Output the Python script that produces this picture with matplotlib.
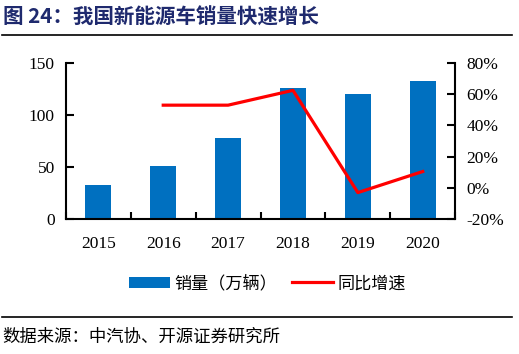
import numpy as np
import matplotlib.pyplot as plt
from matplotlib.lines import Line2D

plt.rcParams['font.family'] = ['Liberation Serif', 'Noto Sans CJK SC']

#---------------------- DATA
years  = ['2015', '2016', '2017', '2018', '2019', '2020']
sales  = [33.1, 50.7, 77.7, 125.6, 120.6, 132.5]      # 万辆
growth = [np.nan, 53.0, 53.0, 62.5, -3.0, 10.5]       # %
yticks_l = [0, 50, 100, 150]
yticks_r = [-20, 0, 20, 40, 60, 80]

#---------------------- PLOT
fig = plt.figure(figsize=(5.19, 3.54), dpi=100)
cjk = ['Noto Sans CJK SC', 'DejaVu Sans']

fig.text(0.006, 0.952, '图 24：我国新能源车销量快速增长', family=cjk, fontsize=14.8,
         fontweight='bold', color='#1F2A6E', va='center', ha='left')
fig.add_artist(Line2D([0.004, 0.986], [0.901, 0.901], color='black', lw=1.2))
fig.add_artist(Line2D([0.004, 0.986], [0.104, 0.104], color='black', lw=1.2))
fig.text(0.004, 0.050, '数据来源：中汽协、开源证券研究所', family=cjk, fontsize=12.5,
         va='center', ha='left')

ax = fig.add_axes([0.127, 0.381, 0.750, 0.441])
x = np.arange(len(years))
b = ax.bar(x, sales, width=0.4, color='#0070C0', label='销量（万辆）', zorder=2)
ax.set_xlim(-0.5, len(years) - 0.5)
ax.set_ylim(0, 150)
ax.set_yticks(yticks_l)
ax.set_xticks(x)
ax.set_xticklabels(years)
ax.set_xticks(np.arange(len(years) + 1) - 0.5, minor=True)
ax.tick_params(axis='x', which='major', length=0, pad=12, labelsize=12.5)
ax.tick_params(axis='x', which='minor', direction='in', length=5, width=1.5)
ax.tick_params(axis='y', direction='in', length=6, width=1.5, labelsize=12.5, pad=8)
for s in ['top', 'right']:
    ax.spines[s].set_visible(False)
ax.spines['left'].set_linewidth(1.5)
ax.spines['bottom'].set_linewidth(1.5)

ax2 = ax.twinx()
l, = ax2.plot(x, growth, color='#FF0000', lw=2.3, label='同比增速', zorder=3)
ax2.set_ylim(-20, 80)
ax2.set_yticks(yticks_r)
ax2.set_yticklabels(['%d%%' % v for v in yticks_r])
ax2.tick_params(axis='y', direction='in', length=6, width=1.5, labelsize=12.5, pad=8)
for s in ['top', 'left', 'bottom']:
    ax2.spines[s].set_visible(False)
ax2.spines['right'].set_linewidth(1.5)

leg = fig.legend([b, l], ['销量（万辆）', '同比增速'], loc='center', bbox_to_anchor=(0.515, 0.2),
                 ncol=2, frameon=False, prop={'family': cjk, 'size': 12.3},
                 handlelength=2.4, handleheight=0.6, columnspacing=0.9, handletextpad=0.25)

fig.savefig('out.png', dpi=100)
